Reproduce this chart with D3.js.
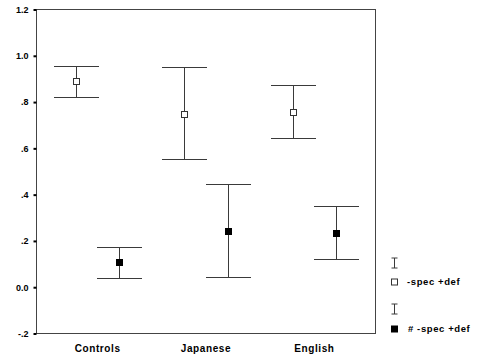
<!DOCTYPE html>
<html>
<head>
<meta charset="utf-8">
<script src="https://cdn.jsdelivr.net/npm/d3@7/dist/d3.min.js"></script>
<style>
  html, body { margin: 0; padding: 0; background: #fff; }
  svg { display: block; }
  text { font-family: "Liberation Sans", Arial, sans-serif; font-weight: bold; fill: #000; }
</style>
</head>
<body>
<svg id="chart" width="484" height="355"></svg>
<script>
// Group means with error-bar limits for the two conditions
const categories = ["Controls", "Japanese", "English"];
const openMean  = [0.890, 0.750, 0.758];
const openLow   = [0.822, 0.552, 0.644];
const openHigh  = [0.958, 0.950, 0.873];
const closedMean = [0.107, 0.245, 0.236];
const closedLow  = [0.038, 0.046, 0.121];
const closedHigh = [0.173, 0.445, 0.352];
const yTicks = [-0.2, 0, 0.2, 0.4, 0.6, 0.8, 1.0, 1.2];
const yTickLabels = ["-.2", "0.0", ".2", ".4", ".6", ".8", "1.0", "1.2"];
const seriesNames = ["open", "closed"];
const legendLabels = ["-spec +def", "# -spec +def"];

const svg = d3.select("#chart");
const plotLeft = 36.5, plotRight = 375.5, plotTop = 9.5, plotBottom = 333.5;

const y = d3.scaleLinear().domain([-0.2, 1.2]).range([plotBottom, plotTop]);
const x = d3.scalePoint().domain(categories).range([plotLeft, plotRight]).padding(0.564);
// offset of the two conditions within a group
const sub = d3.scalePoint().domain(seriesNames).range([-21.7, 21.7]);

const lineColor = "#3a3a3a";

// plot frame
svg.append("rect")
  .attr("x", plotLeft).attr("y", plotTop)
  .attr("width", plotRight - plotLeft).attr("height", plotBottom - plotTop)
  .attr("fill", "none").attr("stroke", "#444").attr("stroke-width", 1);

// y axis: short thick ticks outside the frame
const yAxis = d3.axisLeft(y)
  .tickValues(yTicks)
  .tickSize(3)
  .tickPadding(5)
  .tickFormat((d, i) => yTickLabels[i]);
const ga = svg.append("g").attr("transform", `translate(${plotLeft},0)`).call(yAxis);
ga.select(".domain").remove();
ga.selectAll(".tick line").attr("stroke", "#000").attr("stroke-width", 2);
ga.selectAll(".tick text")
  .style("font-family", '"Liberation Sans", Arial, sans-serif')
  .style("font-weight", "bold").style("font-size", "9px").attr("fill", "#000");

// category labels
svg.append("g").selectAll("text")
  .data(categories).join("text")
  .attr("x", d => x(d)).attr("y", 352)
  .attr("text-anchor", "middle")
  .style("font-size", "10px")
  .style("letter-spacing", "0.6px")
  .text(d => d);

const series = [
  { name: "open", mean: openMean, low: openLow, high: openHigh },
  { name: "closed", mean: closedMean, low: closedLow, high: closedHigh }
];
const capHalf = 22.5;

series.forEach(s => {
  const g = svg.append("g");
  categories.forEach((c, i) => {
    const cx = Math.round(x(c) + sub(s.name)) + 0.5;
    const yh = Math.round(y(s.high[i])) + 0.5;
    const yl = Math.round(y(s.low[i])) + 0.5;
    g.append("line").attr("x1", cx).attr("x2", cx).attr("y1", yh).attr("y2", yl)
      .attr("stroke", lineColor).attr("stroke-width", 1);
    [yh, yl].forEach(yy => g.append("line")
      .attr("x1", cx - capHalf).attr("x2", cx + capHalf).attr("y1", yy).attr("y2", yy)
      .attr("stroke", lineColor).attr("stroke-width", 1));
    const ym = Math.round(y(s.mean[i])) + 0.5;
    if (s.name === "open") {
      g.append("rect").attr("x", cx - 3).attr("y", ym - 3).attr("width", 6).attr("height", 6)
        .attr("fill", "#fff").attr("stroke", "#333").attr("stroke-width", 1);
    } else {
      g.append("rect").attr("x", cx - 3.5).attr("y", ym - 3.5).attr("width", 7).attr("height", 7)
        .attr("fill", "#000");
    }
  });
});

// legend: an error-bar glyph above each marker entry
const legend = svg.append("g");
const legendRows = [{ bar: 263, mark: 282 }, { bar: 309, mark: 329 }];
const lx = 394.5;
seriesNames.forEach((name, i) => {
  const r = legendRows[i];
  legend.append("line").attr("x1", lx).attr("x2", lx).attr("y1", r.bar - 5).attr("y2", r.bar + 5)
    .attr("stroke", lineColor);
  [r.bar - 5, r.bar + 5].forEach(yy => legend.append("line")
    .attr("x1", lx - 3).attr("x2", lx + 3).attr("y1", yy).attr("y2", yy).attr("stroke", lineColor));
  if (name === "open") {
    legend.append("rect").attr("x", lx - 3).attr("y", r.mark - 3).attr("width", 6).attr("height", 6)
      .attr("fill", "#fff").attr("stroke", "#333");
  } else {
    legend.append("rect").attr("x", lx - 3.5).attr("y", r.mark - 3.5).attr("width", 7).attr("height", 7)
      .attr("fill", "#000");
  }
  legend.append("text")
    .attr("x", name === "open" ? 407 : 408).attr("y", r.mark)
    .attr("dy", "0.35em")
    .style("font-size", "9.5px")
    .style("letter-spacing", "0.6px")
    .text(legendLabels[i]);
});
</script>
</body>
</html>
